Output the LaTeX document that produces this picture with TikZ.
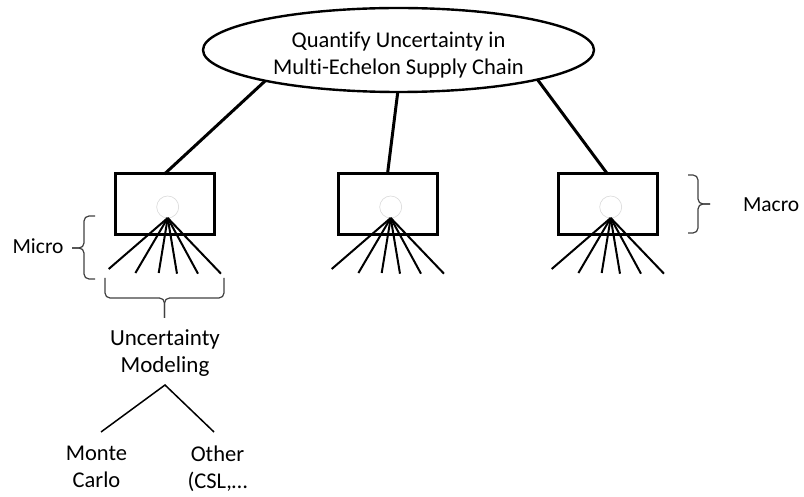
\documentclass[tikz,border=0pt]{standalone}
\usepackage{fontspec}
\setmainfont{Carlito}[Ligatures=NoCommon]
\usetikzlibrary{shapes.geometric}
\begin{document}
\begin{tikzpicture}[x=1pt,y=-1pt,
  every node/.style={inner sep=0pt, outer sep=0pt},
  caption/.style={font=\fontsize{#1}{27}\selectfont, align=center,
    execute at begin node=\strut, execute at end node=\strut},
  caption/.default=22.5,
  goalshape/.style={ellipse, draw, line width=2.4pt, minimum width=391pt, minimum height=84pt},
  echelon/.style={rectangle, draw, line width=3pt, minimum width=99pt, minimum height=61pt},
  hub/.style={circle, draw=black!15, line width=0.6pt, minimum size=22pt},
  link/.style={line width=3pt},
  spoke/.style={line width=2pt},
  branch/.style={line width=1.5pt},
  bracket/.style={draw=black!75, line width=1.2pt, rounded corners=5pt}
]
\useasboundingbox (0,0) rectangle (804,497);

% goal ellipse and its caption
\node[goalshape] (goal) at (398.5,50) {};
\node[caption=22.5] (title) at (398.5,57) {Quantify Uncertainty in\\Multi-Echelon Supply Chain};

% the three echelons
\node[echelon] (b1) at (164.5,204.5) {};
\node[echelon] (b2) at (387.5,204.5) {};
\node[echelon] (b3) at (607.5,204.5) {};

% faint hubs inside each echelon
\node[hub] (h1) at (167.7,207) {};
\node[hub] (h2) at (390.7,207) {};
\node[hub] (h3) at (610.7,207) {};

% links from the goal to the echelons
\draw[link] (goal.193) -- (b1.north);
\draw[link] (goal.269) -- (b2.north);
\draw[link] (goal.348) -- (b3.north);

% spokes fanning out below each hub
\foreach \k in {1,2,3} {
  \foreach \dx/\dy [count=\i] in {-59/51,-32.3/55,-9/55,9.3/55.7,30.3/55.7,53.3/55.7} {
    \draw[spoke] (h\k.south) -- ++(\dx,\dy) coordinate (tip\k-\i);
  }
}

% Macro brace
\draw[bracket] (688,175) -| (698,204) -- (710,204);
\draw[bracket] (688,233) -| (698,204) -- (710,204);
\node[caption=21.5, anchor=west] (macro) at (743,206.5) {Macro};

% Micro brace
\draw[bracket] (95,216) -| (84,248) -- (72,248);
\draw[bracket] (95,279) -| (84,248) -- (72,248);
\node[caption=21.5, anchor=east] (micro) at (63.5,248.5) {Micro};

% brace under the first fan
\draw[bracket] (105,278) |- (164.5,298) -- (164.5,318);
\draw[bracket] (224,278) |- (164.5,298) -- (164.5,318);

% uncertainty modeling and its two branches
\node[caption=23] (um) at (165,355) {Uncertainty\\Modeling};
\coordinate (split) at (165,385);
\coordinate (leftend) at (101,432);
\coordinate (rightend) at (214,432);
\draw[branch] (leftend) -- (split) -- (rightend);
\node[caption=22.5] (mc) at (96.5,471) {Monte\\Carlo};
\node[caption=22.5] (oth) at (217.5,471) {Other\\(CSL,…};
\end{tikzpicture}
\end{document}
